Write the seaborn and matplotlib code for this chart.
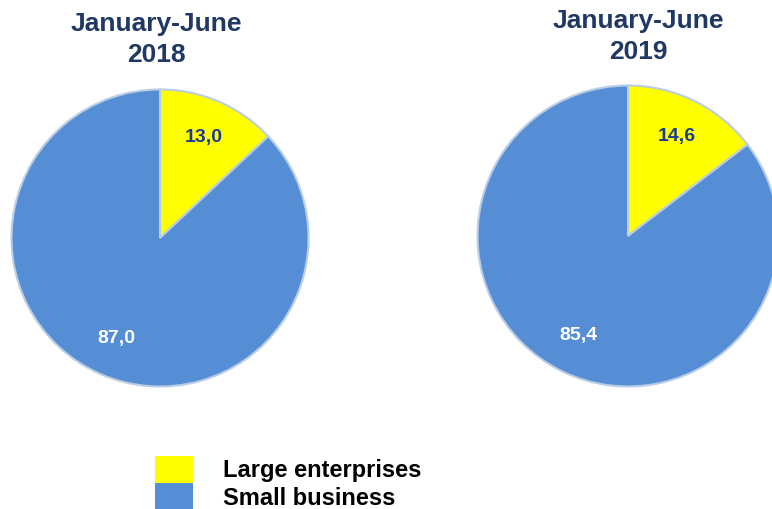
import matplotlib
matplotlib.use("Agg")
import matplotlib.pyplot as plt
import matplotlib.patches as mpatches
import seaborn as sns

# Data
periods = ["January-June\n2018", "January-June\n2019"]
categories = ["Large enterprises", "Small business"]
shares_2018 = [13.0, 87.0]
shares_2019 = [14.6, 85.4]

colors = ["#FFFF00", "#558ED5"]
label_colors = ["#1A3A96", "white"]
title_color = "#1F3864"

sns.set_style("white")
plt.rcParams["font.family"] = ["Liberation Sans", "DejaVu Sans"]

fig = plt.figure(figsize=(7.72, 5.09), dpi=100)
W, H = 772, 509

# pie axes in pixel boxes (left, top, size)
boxes = [(10, 88, 300), (476, 84, 304)]
title_x = [156, 638]
title_top = [12, 9]

for i, (vals, (l, t, s)) in enumerate(zip([shares_2018, shares_2019], boxes)):
    ax = fig.add_axes([l / W, (H - t - s) / H, s / W, s / H])
    wedges, texts, autotexts = ax.pie(
        vals, colors=colors, startangle=90, counterclock=False,
        autopct=lambda p: ("%.1f" % p).replace(".", ","),
        pctdistance=0.74,
        wedgeprops=dict(edgecolor="#B9CDE5", linewidth=1.5),
        textprops=dict(fontsize=14, fontweight="bold"))
    for txt, c in zip(autotexts, label_colors):
        txt.set_color(c)
    ax.set_xlim(-1.01, 1.01)
    ax.set_ylim(-1.01, 1.01)
    ax.set_aspect("equal")
    ax.axis("off")
    fig.text(title_x[i] / W, 1 - title_top[i] / H, periods[i], ha="center",
             va="top", fontsize=19, fontweight="bold", color=title_color,
             linespacing=1.35)

handles = [mpatches.Patch(facecolor=c, edgecolor="none") for c in colors]
fig.legend(handles, categories, loc="upper left",
           bbox_to_anchor=(155 / W, 1 - 456 / H), frameon=False,
           handlelength=1.6, handleheight=1.4,
           labelspacing=0.0, handletextpad=1.27, borderaxespad=0,
           borderpad=0, labelcolor="black",
           prop=dict(weight="bold", size=17))

fig.savefig("out.png", dpi=100)
